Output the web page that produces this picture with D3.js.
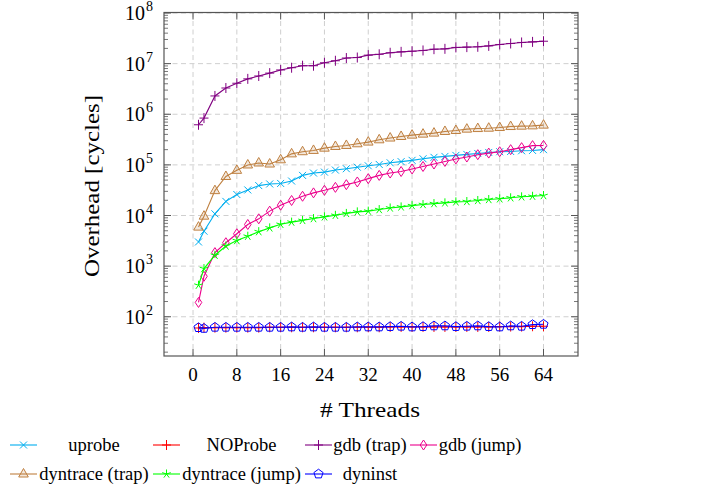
<!DOCTYPE html>
<html><head><meta charset="utf-8">
<script src="https://cdn.jsdelivr.net/npm/d3@7"></script>
<style>body{margin:0;background:#fff}svg{display:block}
text{font-family:"Liberation Serif","Tinos","Times New Roman","Nimbus Roman",serif}</style>
</head><body>
<svg id="c" width="724" height="490"></svg>
<script>
const threads = [1,2,4,6,8,10,12,14,16,18,20,22,24,26,28,30,32,34,36,38,40,42,44,46,48,50,52,54,56,58,60,62,64];
const uprobe = [3.0e3,4.9e3,1.08e4,1.9e4,2.6e4,3.2e4,3.9e4,4.2e4,4.3e4,4.8e4,6.2e4,6.9e4,7.2e4,7.9e4,8.4e4,9.0e4,9.6e4,1.02e5,1.1e5,1.16e5,1.23e5,1.32e5,1.41e5,1.47e5,1.54e5,1.61e5,1.68e5,1.76e5,1.82e5,1.84e5,1.9e5,1.93e5,2.0e5];
const noProbe = [60,61,61,61,61,61,61,62,62,62,62,62,62,62,62,62,62,62,63,63,63,63,63,63,63,63,63,63,64,64,64,65,65];
const gdbTrap = [6.2e5,8.4e5,2.3e6,3.3e6,4.1e6,5.0e6,5.7e6,6.5e6,7.5e6,8.3e6,9.1e6,9.1e6,1.04e7,1.14e7,1.29e7,1.32e7,1.47e7,1.53e7,1.64e7,1.71e7,1.76e7,1.82e7,1.93e7,1.96e7,2.09e7,2.12e7,2.15e7,2.24e7,2.39e7,2.5e7,2.62e7,2.69e7,2.77e7];
const gdbJump = [192,630,1.85e3,2.9e3,4.36e3,6.65e3,8.6e3,1.22e4,1.6e4,1.98e4,2.4e4,2.8e4,3.15e4,3.6e4,4.07e4,4.6e4,5.35e4,6.2e4,6.9e4,7.4e4,8.3e4,9.3e4,1.04e5,1.17e5,1.31e5,1.43e5,1.59e5,1.71e5,1.82e5,2.0e5,2.19e5,2.4e5,2.42e5];
const dyntraceTrap = [5.9e3,9.7e3,3.1e4,5.9e4,7.8e4,9.96e4,1.09e5,1.04e5,1.26e5,1.65e5,1.82e5,1.93e5,2.14e5,2.31e5,2.42e5,2.61e5,2.82e5,3.13e5,3.39e5,3.64e5,3.87e5,4.05e5,4.24e5,4.57e5,4.78e5,5.08e5,5.22e5,5.3e5,5.47e5,5.72e5,5.82e5,5.9e5,6.1e5];
const dyntraceJump = [420,895,1.64e3,2.5e3,3.2e3,3.9e3,4.8e3,5.7e3,6.7e3,7.4e3,8.0e3,8.7e3,9.4e3,1.01e4,1.1e4,1.18e4,1.22e4,1.31e4,1.41e4,1.48e4,1.57e4,1.65e4,1.72e4,1.78e4,1.86e4,1.89e4,1.98e4,2.07e4,2.14e4,2.24e4,2.34e4,2.4e4,2.48e4];
const dyninst = [61,59,62,62,62,62,62,62,62,63,62,63,62,62,62,63,63,63,64,65,63,64,66,66,64,65,66,64,63,66,65,70,71];
const xTicks = [0,8,16,24,32,40,48,56,64];
const yTickExps = [2,3,4,5,6,7,8];
const seriesNames = ["uprobe","NOProbe","gdb (trap)","gdb (jump)","dyntrace (trap)","dyntrace (jump)","dyninst"];

const series = [
  {name: seriesNames[0], values: uprobe, color: "#00aeef", mark: "x"},
  {name: seriesNames[1], values: noProbe, color: "#ff0000", mark: "plus"},
  {name: seriesNames[2], values: gdbTrap, color: "#800080", mark: "plus"},
  {name: seriesNames[3], values: gdbJump, color: "#ec008c", mark: "diamond"},
  {name: seriesNames[4], values: dyntraceTrap, color: "#bf8040", mark: "triangle"},
  {name: seriesNames[5], values: dyntraceJump, color: "#00ff00", mark: "star"},
  {name: seriesNames[6], values: dyninst, color: "#0000ff", mark: "pentagon"}
];
const drawOrder = [0,1,2,3,4,5,6];

const svg = d3.select("#c");
const L = 164, R = 578, T = 12.5, B = 356;
const x = d3.scaleLinear().domain([-5.3, 70.3]).range([L, R]);
const y = d3.scaleLog().domain([Math.pow(10,1.225), Math.pow(10,8.01)]).range([B, T]);
const frameCol = "#555";

// grid
const g = svg.append("g");
xTicks.forEach(t => g.append("line").attr("x1", x(t)).attr("x2", x(t)).attr("y1", T).attr("y2", B)
  .attr("stroke", "#cfcfcf").attr("stroke-width", 1).attr("stroke-dasharray", "5,3.5"));
yTickExps.forEach(e => g.append("line").attr("x1", L).attr("x2", R).attr("y1", y(Math.pow(10,e))).attr("y2", y(Math.pow(10,e)))
  .attr("stroke", "#cfcfcf").attr("stroke-width", 1).attr("stroke-dasharray", "5,3.5"));

// minor ticks (log)
for (let e = 1; e <= 7; e++) {
  for (let m = 2; m <= 9; m++) {
    const v = m * Math.pow(10, e);
    const yy = y(v);
    if (yy < T || yy > B) continue;
    g.append("line").attr("x1", L).attr("x2", L + 4).attr("y1", yy).attr("y2", yy).attr("stroke", frameCol).attr("stroke-width", 0.8);
    g.append("line").attr("x1", R).attr("x2", R - 4).attr("y1", yy).attr("y2", yy).attr("stroke", frameCol).attr("stroke-width", 0.8);
  }
}
// major ticks
yTickExps.forEach(e => {
  const yy = y(Math.pow(10, e));
  g.append("line").attr("x1", L).attr("x2", L + 7).attr("y1", yy).attr("y2", yy).attr("stroke", frameCol);
  g.append("line").attr("x1", R).attr("x2", R - 7).attr("y1", yy).attr("y2", yy).attr("stroke", frameCol);
  const tx = g.append("text").attr("x", 145).attr("y", yy + 7).attr("text-anchor", "end")
    .attr("font-size", 20).attr("fill", "#000");
  tx.append("tspan").text("10");
  tx.append("tspan").attr("x", 146).attr("dy", -9).attr("font-size", 14).attr("text-anchor","start").text(String(e));
});
xTicks.forEach(t => {
  g.append("line").attr("x1", x(t)).attr("x2", x(t)).attr("y1", B).attr("y2", B - 7).attr("stroke", frameCol);
  g.append("line").attr("x1", x(t)).attr("x2", x(t)).attr("y1", T).attr("y2", T + 7).attr("stroke", frameCol);
  g.append("text").attr("x", x(t)).attr("y", 381).attr("text-anchor", "middle")
    .attr("font-size", 19).text(String(t));
});

// series
const line = d3.line().x((d, i) => x(threads[i])).y(d => y(d));
function markPath(type) {
  switch (type) {
    case "x": return "M-3.5,-3.5L3.5,3.5M-3.5,3.5L3.5,-3.5";
    case "plus": return "M-4.5,0L4.5,0M0,-5L0,5";
    case "diamond": return "M0,-5L3.3,0L0,5L-3.3,0Z";
    case "triangle": return "M0,-5.5L4.8,3L-4.8,3Z";
    case "star": {
      let p = "";
      for (let k = 0; k < 5; k++) { const a = -Math.PI/2 + k*2*Math.PI/5; p += `M0,0L${(4.5*Math.cos(a)).toFixed(2)},${(4.5*Math.sin(a)).toFixed(2)}`; }
      return p;
    }
    case "pentagon": {
      const pts = [];
      for (let k = 0; k < 5; k++) { const a = -Math.PI/2 + k*2*Math.PI/5; pts.push([(4.8*Math.cos(a)).toFixed(2), (4.8*Math.sin(a)).toFixed(2)]); }
      return "M" + pts.map(p => p.join(",")).join("L") + "Z";
    }
  }
}
function drawMark(sel, s, cx, cy) {
  const p = sel.append("path").attr("d", markPath(s.mark)).attr("transform", `translate(${cx},${cy})`)
    .attr("stroke", s.color).attr("stroke-width", 1);
  if (s.mark === "triangle") p.attr("fill", "rgba(191,128,64,0.18)");
  else p.attr("fill", "none");
}
drawOrder.forEach(i => {
  const s = series[i];
  const sg = svg.append("g");
  sg.append("path").datum(s.values).attr("d", line).attr("fill", "none").attr("stroke", s.color).attr("stroke-width", 1.1);
  s.values.forEach((v, j) => drawMark(sg, s, x(threads[j]), y(v)));
});

// frame
svg.append("rect").attr("x", L).attr("y", T).attr("width", R - L).attr("height", B - T)
  .attr("fill", "none").attr("stroke", frameCol).attr("stroke-width", 1.2);

// axis titles
svg.append("text").attr("x", 370).attr("y", 417).attr("text-anchor", "middle")
  .attr("font-size", 21).attr("textLength", 100).attr("lengthAdjust", "spacingAndGlyphs").text("# Threads");
svg.append("text").attr("transform", "translate(99,186) rotate(-90)").attr("text-anchor", "middle")
  .attr("font-size", 21).attr("textLength", 182).attr("lengthAdjust", "spacingAndGlyphs").text("Overhead [cycles]");

// legend
const legPos = [
  {lx: 10, tx: 94, y: 445}, {lx: 153, tx: 241.5, y: 445}, {lx: 305, tx: 370, y: 445}, {lx: 410, tx: 480, y: 445},
  {lx: 10, tx: 94, y: 474}, {lx: 153, tx: 241.5, y: 474}, {lx: 305, tx: 370, y: 474}
];
const lg = svg.append("g");
series.forEach((s, i) => {
  const p = legPos[i];
  lg.append("line").attr("x1", p.lx).attr("x2", p.lx + 27).attr("y1", p.y).attr("y2", p.y).attr("stroke", s.color).attr("stroke-width", 1.1);
  drawMark(lg, s, p.lx + 13.5, p.y);
  lg.append("text").attr("x", p.tx).attr("y", p.y + 6).attr("text-anchor", "middle")
    .attr("font-size", 18.5).text(s.name);
});
</script>
</body></html>
